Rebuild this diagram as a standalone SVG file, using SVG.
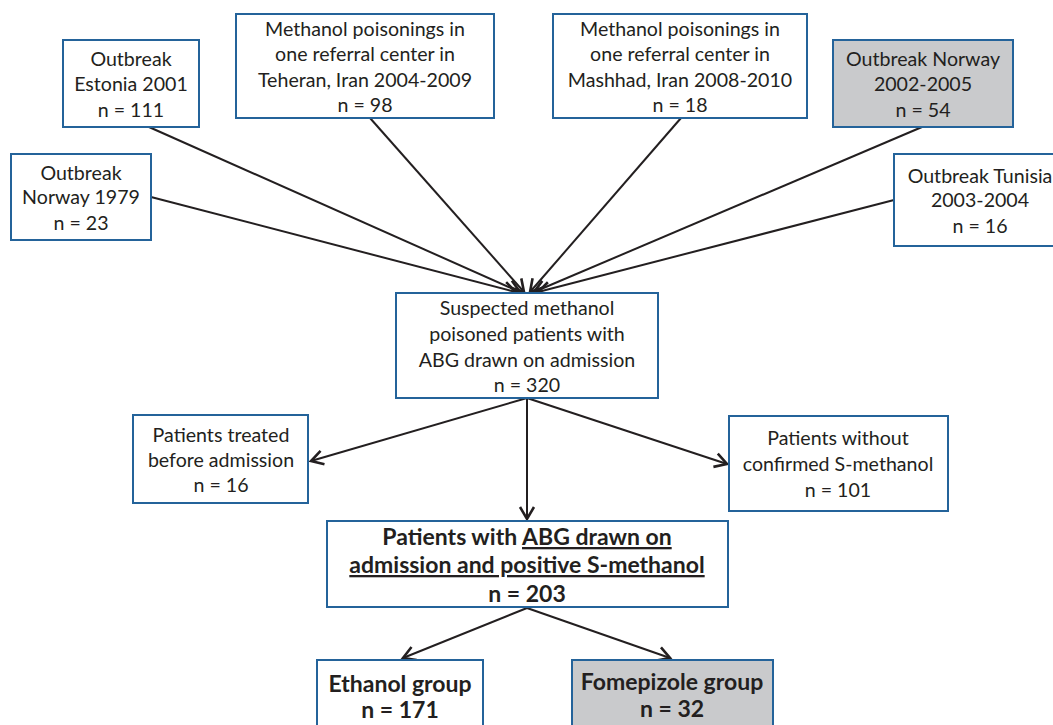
<svg xmlns="http://www.w3.org/2000/svg" width="1053" height="725" viewBox="0 0 1053 725">
<defs>
<style>
.box{fill:#ffffff;stroke:#24639a;stroke-width:2}
.gray{fill:#c9cacc}
.t{font-family:Lato,"Open Sans","Liberation Sans",sans-serif;font-size:19.6px;fill:#231f20;text-anchor:middle}
.b{font-family:Lato,"Open Sans","Liberation Sans",sans-serif;font-size:23px;font-weight:bold;fill:#231f20;text-anchor:middle}
.c{stroke:#231f20;stroke-width:2;fill:none;marker-end:url(#arr)}
</style>
<marker id="arr" markerUnits="userSpaceOnUse" markerWidth="20" markerHeight="20" viewBox="-14 -10 16 20" refX="0" refY="0" orient="auto">
<path d="M-12,-7 L0,0 L-12,7" fill="none" stroke="#231f20" stroke-width="2.6" stroke-linejoin="miter"/>
</marker>
</defs>
<rect width="1053" height="725" fill="#ffffff"/>
<g id="connectors">
<line class="c" x1="151" y1="197" x2="516" y2="292"/>
<line class="c" x1="149" y1="127" x2="520" y2="292"/>
<line class="c" x1="370" y1="118" x2="524" y2="292"/>
<line class="c" x1="681" y1="118" x2="530" y2="292"/>
<line class="c" x1="922" y1="127" x2="534" y2="292"/>
<line class="c" x1="894" y1="200" x2="538" y2="292"/>
<line class="c" x1="527" y1="398" x2="311" y2="461"/>
<line class="c" x1="527" y1="398" x2="727" y2="464"/>
<line class="c" x1="527" y1="398" x2="527" y2="519"/>
<line class="c" x1="527" y1="608" x2="403" y2="658"/>
<line class="c" x1="527" y1="608" x2="670" y2="658"/>
</g>
<g id="estonia">
<rect class="box" x="63" y="40" width="136" height="87"/>
<text class="t" x="131" y="66">Outbreak</text>
<text class="t" x="131" y="91">Estonia 2001</text>
<text class="t" x="131" y="117">n = 111</text>
</g>
<g id="teheran">
<rect class="box" x="236" y="14" width="258" height="104"/>
<text class="t" x="365" y="36">Methanol poisonings in</text>
<text class="t" x="365" y="61">one referral center in</text>
<text class="t" x="365" y="87">Teheran, Iran 2004-2009</text>
<text class="t" x="365" y="112">n = 98</text>
</g>
<g id="norway1979">
<rect class="box" x="11" y="154" width="140" height="86"/>
<text class="t" x="81" y="180">Outbreak</text>
<text class="t" x="81" y="204">Norway 1979</text>
<text class="t" x="81" y="230">n = 23</text>
</g>
<g id="mashhad">
<rect class="box" x="553" y="14" width="254" height="104"/>
<text class="t" x="680" y="36">Methanol poisonings in</text>
<text class="t" x="680" y="61">one referral center in</text>
<text class="t" x="680" y="87">Mashhad, Iran 2008-2010</text>
<text class="t" x="680" y="112">n = 18</text>
</g>
<g id="norway2002">
<rect class="box gray" x="833" y="40" width="180" height="87"/>
<text class="t" x="923" y="66">Outbreak Norway</text>
<text class="t" x="923" y="91">2002-2005</text>
<text class="t" x="923" y="117">n = 54</text>
</g>
<g id="tunisia">
<rect class="box" x="894" y="154" width="172" height="92"/>
<text class="t" x="980" y="183">Outbreak Tunisia</text>
<text class="t" x="980" y="207">2003-2004</text>
<text class="t" x="980" y="233">n = 16</text>
</g>
<g id="suspected">
<rect class="box" x="396" y="293" width="262" height="105"/>
<text class="t" x="527" y="315">Suspected methanol</text>
<text class="t" x="527" y="341">poisoned patients with</text>
<text class="t" x="527" y="367">ABG drawn on admission</text>
<text class="t" x="527" y="392">n = 320</text>
</g>
<g id="treated">
<rect class="box" x="133" y="415" width="175" height="88"/>
<text class="t" x="221" y="442">Patients treated</text>
<text class="t" x="221" y="467">before admission</text>
<text class="t" x="221" y="492">n = 16</text>
</g>
<g id="without">
<rect class="box" x="729" y="416" width="219" height="95"/>
<text class="t" x="838" y="445">Patients without</text>
<text class="t" x="838" y="471">confirmed S-methanol</text>
<text class="t" x="838" y="497">n = 101</text>
</g>
<g id="positive">
<rect class="box" x="327" y="521" width="401" height="86"/>
<text class="b" x="527" y="545">Patients with <tspan text-decoration="underline">ABG drawn on</tspan></text>
<text class="b" x="527" y="573" text-decoration="underline">admission and positive S-methanol</text>
<text class="b" x="527" y="602">n = 203</text>
</g>
<g id="ethanol">
<rect class="box" x="317" y="660" width="166" height="80"/>
<text class="b" x="400" y="692">Ethanol group</text>
<text class="b" x="400" y="718">n = 171</text>
</g>
<g id="fomepizole">
<rect class="box gray" x="572" y="660" width="201" height="80"/>
<text class="b" x="672" y="690">Fomepizole group</text>
<text class="b" x="672" y="717">n = 32</text>
</g>
</svg>
